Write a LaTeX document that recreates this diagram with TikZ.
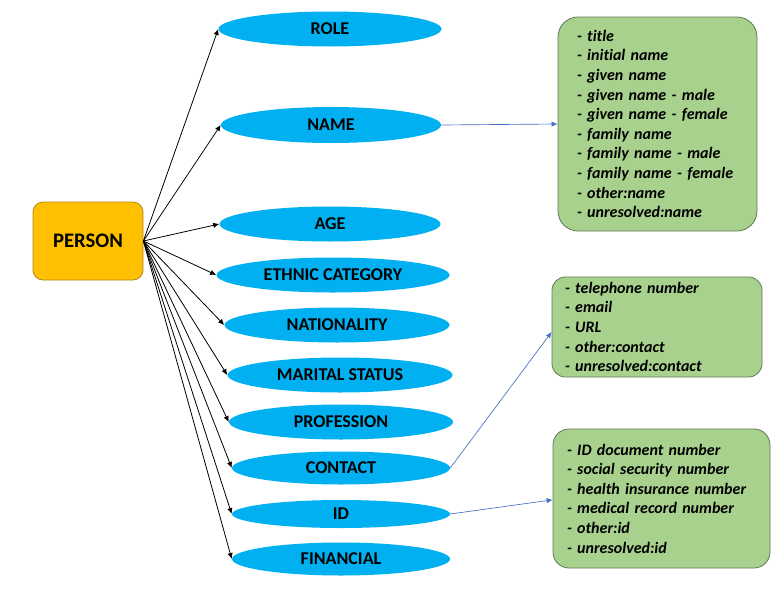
\documentclass[tikz,border=0pt]{standalone}
\usepackage{fontspec}
\setmainfont{Carlito}[Ligatures=NoCommon]
\usetikzlibrary{shapes.geometric,arrows.meta}
\definecolor{attrblue}{HTML}{00B0F0}
\definecolor{personfill}{HTML}{FFC000}
\definecolor{personedge}{HTML}{B08A1A}
\definecolor{listfill}{HTML}{A9D18E}
\definecolor{listedge}{HTML}{5E7A55}
\definecolor{linkblue}{HTML}{4472C4}
\tikzset{
    attr/.style={ellipse,fill=attrblue,inner sep=1pt,font=\fontsize{13.5}{16}\selectfont\bfseries},
    listbox/.style={rectangle,draw=listedge,fill=listfill,line width=0.6pt,align=left,
        font=\fontsize{12}{14.7}\selectfont\bfseries\itshape},
    haslink/.style={-{Latex[length=4.5pt,width=4pt]},line width=0.6pt,black},
    sublink/.style={-{Latex[length=4.5pt,width=4pt]},line width=0.5pt,linkblue}
}
\begin{document}
\begin{tikzpicture}[x=0.75pt,y=-0.75pt]
        \useasboundingbox (0,0) rectangle (781,589);
        \node[rectangle,rounded corners=7.5pt,draw=personedge,fill=personfill,line width=0.6pt,
            minimum width=82.5pt,minimum height=58.5pt,font=\fontsize{15.5}{18}\selectfont\bfseries]
            (person) at (88,241) {PERSON};
        \foreach \nm/\cx/\cy/\w/\h/\txt in {role/330/29/223/35/ROLE,name/331/125/220/36/NAME,
            age/330/224/221/35/AGE,ethnic/333/275/233/35/ETHNIC CATEGORY,
            nation/337/325/225/35/NATIONALITY,marital/340/375/225/35/MARITAL STATUS,
            prof/341/422/224/35/PROFESSION,contact/341/468/218/33/CONTACT,
            id/341/514/218/28/ID,fin/341/559/218/33/FINANCIAL}
            \node[attr,minimum width=\w*0.75pt,minimum height=\h*0.75pt] (\nm) at (\cx,\cy) {\txt};
        \foreach \nm in {role,name,age,ethnic,nation,marital,prof,contact,id,fin}
            \draw[haslink] (person.east) -- (\nm.west);
        \node[listbox,rounded corners=15pt,minimum width=149.25pt,minimum height=160.5pt,
            text width=120.75pt,inner xsep=14.25pt] (namelist) at (657.5,124)
            {- title\\- initial name\\- given name\\- given name - male\\- given name - female\\
             - family name\\- family name - male\\- family name - female\\- other:name\\- unresolved:name};
        \node[listbox,rounded corners=10pt,minimum width=157.5pt,minimum height=75pt,
            text width=138pt,inner xsep=9.75pt] (contactlist) at (657,327)
            {- telephone number\\- email\\- URL\\- other:contact\\- unresolved:contact};
        \node[listbox,rounded corners=12pt,minimum width=162.75pt,minimum height=104.25pt,
            text width=141.75pt,inner xsep=10.5pt] (idlist) at (661.5,498.5)
            {- ID document number\\- social security number\\- health insurance number\\
             - medical record number\\- other:id\\- unresolved:id};
        \draw[sublink] (name.east) -- (namelist.west);
        \draw[sublink] (contact.east) -- ([yshift=-3.75pt]contactlist.west);
        \draw[sublink] (id.east) -- ([yshift=-1pt]idlist.west);
    \end{tikzpicture}
\end{document}
